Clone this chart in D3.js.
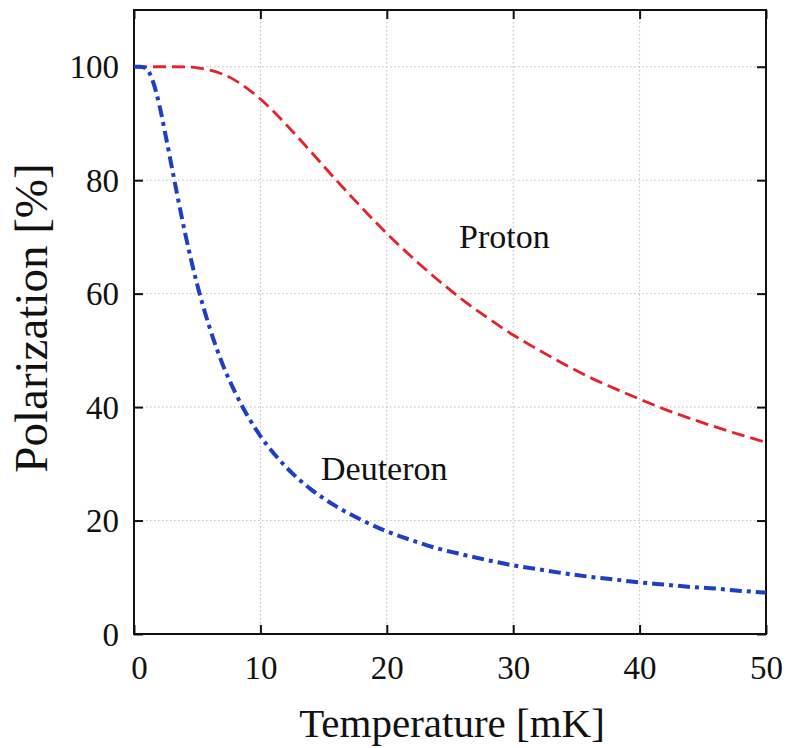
<!DOCTYPE html>
<html>
<head>
<meta charset="utf-8">
<script src="https://cdn.jsdelivr.net/npm/d3@7"></script>
<style>
  body { margin: 0; background: #fff; }
  text { font-family: "Liberation Serif", "DejaVu Serif", serif; fill: #111; }
</style>
</head>
<body>
<svg id="chart" width="786" height="748"></svg>
<script>
// values
var temps = [0, 0.5, 1, 1.5, 2, 2.5, 3, 4, 5, 6, 7, 8, 9, 10, 12, 14, 16, 18, 20, 22, 24, 26, 28, 30, 32, 34, 36, 38, 40, 42, 44, 46, 48, 50];
var proton = [100, 100, 100, 100, 100, 100, 100, 99.97, 99.8, 99.4, 98.7, 97.6, 96.1, 94.3, 89.9, 85.0, 80.0, 75.2, 70.6, 66.4, 62.5, 58.9, 55.7, 52.7, 50.1, 47.6, 45.3, 43.3, 41.4, 39.6, 38.0, 36.5, 35.1, 33.8];
var deuteron = [100, 100, 99.6, 97.4, 93.3, 87.9, 82.2, 71.1, 61.6, 53.9, 47.6, 42.6, 38.4, 34.9, 29.5, 25.5, 22.5, 20.1, 18.1, 16.5, 15.1, 14.0, 13.0, 12.1, 11.4, 10.7, 10.1, 9.6, 9.1, 8.7, 8.3, 8.0, 7.6, 7.3];
var xTicks = [0, 10, 20, 30, 40, 50];
var yTicks = [0, 20, 40, 60, 80, 100];

var svg = d3.select('#chart');
var m = { left: 134, right: 766, top: 10, bottom: 634 };

var x = d3.scaleLinear().domain([0, 50]).range([m.left, m.right]);
var y = d3.scaleLinear().domain([0, 110]).range([m.bottom, m.top]);

// grid
svg.append('g').selectAll('line')
  .data(xTicks.slice(1, -1))
  .enter().append('line')
  .attr('x1', d => x(d)).attr('x2', d => x(d))
  .attr('y1', m.top).attr('y2', m.bottom)
  .attr('stroke', '#bbb').attr('stroke-width', 1).attr('stroke-dasharray', '1.5,2.5');

svg.append('g').selectAll('line')
  .data(yTicks.slice(1))
  .enter().append('line')
  .attr('x1', m.left).attr('x2', m.right)
  .attr('y1', d => y(d)).attr('y2', d => y(d))
  .attr('stroke', '#bbb').attr('stroke-width', 1).attr('stroke-dasharray', '1.5,2.5');

// axes with inward ticks
var fmt = d3.format('d');
var xAxis = svg.append('g').attr('transform', 'translate(0,' + m.bottom + ')')
  .call(d3.axisBottom(x).tickValues(xTicks).tickSize(-9).tickPadding(22).tickFormat(fmt));
var yAxis = svg.append('g').attr('transform', 'translate(' + m.left + ',0)')
  .call(d3.axisLeft(y).tickValues(yTicks).tickSize(-9).tickPadding(15).tickFormat(fmt));
svg.append('g').attr('transform', 'translate(0,' + m.top + ')')
  .call(d3.axisTop(x).tickValues(xTicks).tickSize(-9).tickFormat(''));
svg.append('g').attr('transform', 'translate(' + m.right + ',0)')
  .call(d3.axisRight(y).tickValues(yTicks).tickSize(-9).tickFormat(''));

svg.selectAll('.domain').remove();
svg.selectAll('.tick line').attr('stroke', '#111').attr('stroke-width', 2);
svg.selectAll('.tick text')
  .attr('font-family', '"Liberation Serif", serif')
  .attr('font-size', 33).attr('fill', '#111');
yAxis.selectAll('.tick text').attr('dy', '0.34em');
xAxis.selectAll('.tick text').attr('dx', d => d === 0 ? 5 : 0);

// frame
svg.append('rect')
  .attr('x', m.left).attr('y', m.top)
  .attr('width', m.right - m.left).attr('height', m.bottom - m.top)
  .attr('fill', 'none').attr('stroke', '#111').attr('stroke-width', 2);

// curves
var line = d3.line()
  .x((d, i) => x(temps[i]))
  .y(d => y(d))
  .curve(d3.curveMonotoneX);

svg.append('path')
  .datum(proton)
  .attr('d', line)
  .attr('fill', 'none')
  .attr('stroke', '#e8202a')
  .attr('stroke-width', 2.8)
  .attr('stroke-dasharray', '13,6');

svg.append('path')
  .datum(deuteron)
  .attr('d', line)
  .attr('fill', 'none')
  .attr('stroke', '#1c3fc4')
  .attr('stroke-width', 4)
  .attr('stroke-dasharray', '12,5,4,5');

// labels
svg.append('text').attr('x', 459).attr('y', 248)
  .attr('font-size', 34).text('Proton');
svg.append('text').attr('x', 321).attr('y', 480)
  .attr('font-size', 34).text('Deuteron');

svg.append('text')
  .attr('x', 452).attr('y', 737)
  .attr('text-anchor', 'middle')
  .attr('font-size', 41)
  .text('Temperature [mK]');

svg.append('text')
  .attr('transform', 'translate(47,318) rotate(-90)')
  .attr('text-anchor', 'middle')
  .attr('font-size', 47)
  .text('Polarization [%]');
</script>
</body>
</html>
